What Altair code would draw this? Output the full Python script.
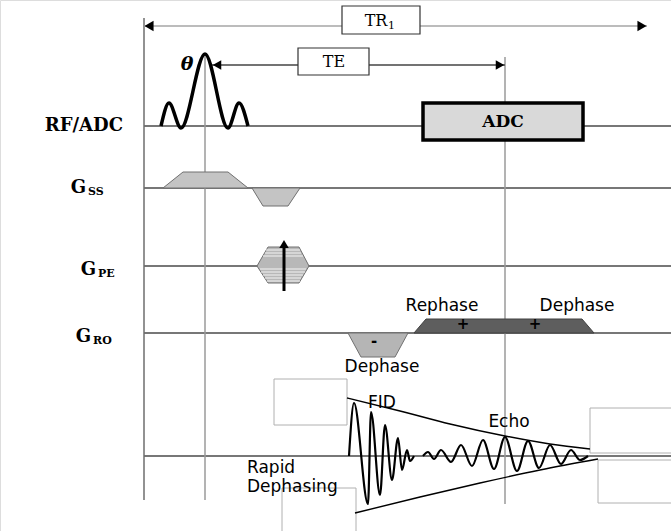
import altair as alt
import pandas as pd

W, H = 671, 531

# ---------------- channel baselines ----------------
base_names = ["RF/ADC", "G_SS", "G_PE", "G_RO", "Signal"]
base_y = [126, 188, 266, 333, 456]
base_x0 = [144, 144, 144, 144, 144]
base_x1 = [671, 671, 671, 671, 671]

# ---------------- vertical time markers ----------------
vline_x = [144, 205, 505]
vline_y0 = [18, 55, 57]
vline_y1 = [500, 500, 504]
vline_color = ["#6e6e6e", "#9a9a9a", "#9a9a9a"]

# ---------------- interval arrows (TR1, TE) ----------------
arrow_names = ["TR1", "TE"]
arrow_y = [26, 65]
arrow_x0 = [144, 212]
arrow_x1 = [647, 505]
arrow_color = ["#a6a6a6", "#444444"]

# arrow heads (TR left/right, TE left/right, phase-encode arrow)
head_x = [149, 642, 217, 500, 284]
head_y = [26, 26, 65, 65, 244]
head_shape = ["triangle-left", "triangle-right", "triangle-left", "triangle-right", "triangle-up"]
head_size = [110, 110, 95, 95, 90]

# phase-encode arrow shaft
pe_arrow_x = [284]
pe_arrow_y0 = [291]
pe_arrow_y1 = [246]

# ---------------- boxes ----------------
box_names = ["TR", "TE", "ADC", "blank1", "blank2", "blank3", "blank4"]
box_x0 = [342, 298, 423, 274, 282, 590, 598]
box_x1 = [420, 369, 583, 347, 356, 680, 680]
box_y0 = [6, 48, 103, 379, 488, 408, 460]
box_y1 = [34, 75, 140, 425, 540, 453, 503]
box_fill = ["#ffffff", "#ffffff", "#d9d9d9", "#ffffff", "#ffffff", "#ffffff", "#ffffff"]
box_stroke = ["#333333", "#333333", "#000000", "#b0b0b0", "#b0b0b0", "#b0b0b0", "#b0b0b0"]
box_width = [1.2, 1.2, 3.5, 1, 1, 1, 1]

# ---------------- gradient lobes (trapezoids / hexagon) ----------------
lobe_id = ["ss_pos"] * 4 + ["ss_neg"] * 4 + ["pe"] * 4 + ["ro_neg"] * 4 + ["ro_pos"] * 4
lobe_x = [163, 183, 228, 248,
          252, 263, 288, 300,
          257, 268, 299, 309,
          348, 361, 395, 408,
          414, 426, 582, 594]
lobe_top = [188, 172, 172, 188,
            188, 206, 206, 188,
            266, 247, 247, 266,
            333, 357, 357, 333,
            333, 319, 319, 333]
lobe_bot = [188, 188, 188, 188,
            188, 188, 188, 188,
            266, 283, 283, 266,
            333, 333, 333, 333,
            333, 333, 333, 333]
lobe_fill_map = {"ss_pos": "#c4c4c4", "ss_neg": "#c4c4c4", "pe": "#b8b8b8",
                 "ro_neg": "#b5b5b5", "ro_pos": "#5e5e5e"}
lobe_stroke_map = {"ss_pos": "#707070", "ss_neg": "#707070", "pe": "#707070",
                   "ro_neg": "#707070", "ro_pos": "#404040"}

# phase-encode table stripes
stripe_y = [250, 253, 256, 269, 272, 275, 278, 281]
stripe_x0 = [266, 265, 263, 260, 261, 263, 265, 267]
stripe_x1 = [300, 301, 303, 306, 305, 303, 301, 300]

# ---------------- waveforms ----------------
rf_x = [161, 169, 181, 205, 228, 239, 248]
rf_y = [126, 103, 128, 54, 128, 103, 126]

fid_x = [349, 354, 368, 371, 380, 385, 392, 398, 402, 407, 410, 414]
fid_y = [456, 403, 504, 412, 495, 425, 480, 438, 470, 450, 461, 456]

echo_x = [423, 428, 434, 441, 451, 461, 472, 483, 494, 505, 517, 528, 539, 550, 561, 571, 580, 588]
echo_y = [456, 452, 459, 450, 462, 445, 466, 440, 469, 437, 471, 441, 468, 445, 464, 450, 460, 456]

env_up_x = [347, 400, 450, 505, 550, 590]
env_up_y = [398, 411, 424, 436, 444, 449]
env_lo_x = [355, 420, 480, 540, 598]
env_lo_y = [513, 497, 483, 470, 459]

# ---------------- texts ----------------
chan_label = ["RF/ADC", "G", "G", "G"]
chan_label_x = [123, 86, 96, 91]
chan_label_y = [126, 188, 270, 337]
chan_sub = ["SS", "PE", "RO"]
chan_sub_x = [88, 98, 93]
chan_sub_y = [192, 274, 341]

interval_label = ["TR", "TE"]
interval_label_x = [376, 334]
interval_label_y = [21, 62]
interval_sub = ["1"]
interval_sub_x = [388]
interval_sub_y = [26]

adc_label = ["ADC"]
adc_label_x = [503]
adc_label_y = [122]

theta_label = ["θ"]
theta_x = [187]
theta_y = [64]

sans_center_text = ["Rephase", "Dephase", "Dephase", "FID", "Echo"]
sans_center_x = [442, 577, 382, 382, 509]
sans_center_y = [306, 306, 367, 403, 422]

sans_left_text = ["Rapid", "Dephasing"]
sans_left_x = [247, 247]
sans_left_y = [468, 487]

sign_text = ["-", "+", "+"]
sign_x = [374, 463, 535]
sign_y = [341, 324, 324]

# ================= build chart =================
XS = alt.Scale(domain=[0, W], nice=False, zero=False)
YS = alt.Scale(domain=[0, H], nice=False, zero=False, reverse=True)


def X(f):
    return alt.X(f, type="quantitative", scale=XS, axis=None)


def Y(f):
    return alt.Y(f, type="quantitative", scale=YS, axis=None)


base_df = pd.DataFrame({"name": base_names, "y": base_y, "x0": base_x0, "x1": base_x1})
baselines = alt.Chart(base_df).mark_rule(color="#4a4a4a", strokeWidth=1.5).encode(
    x=X("x0"), x2="x1", y=Y("y"))

vl_df = pd.DataFrame({"x": vline_x, "y0": vline_y0, "y1": vline_y1, "c": vline_color})
vlines = alt.Chart(vl_df).mark_rule(strokeWidth=1.5).encode(
    x=X("x"), y=Y("y0"), y2="y1", color=alt.Color("c:N", scale=None))

ar_df = pd.DataFrame({"name": arrow_names, "y": arrow_y, "x0": arrow_x0, "x1": arrow_x1, "c": arrow_color})
arrows = alt.Chart(ar_df).mark_rule(strokeWidth=1.3).encode(
    x=X("x0"), x2="x1", y=Y("y"), color=alt.Color("c:N", scale=None))

pe_df = pd.DataFrame({"x": pe_arrow_x, "y0": pe_arrow_y0, "y1": pe_arrow_y1})
pe_shaft = alt.Chart(pe_df).mark_rule(color="black", strokeWidth=3).encode(
    x=X("x"), y=Y("y0"), y2="y1")

hd_df = pd.DataFrame({"x": head_x, "y": head_y, "shape": head_shape, "size": head_size})
heads = alt.Chart(hd_df).mark_point(filled=True, color="black", opacity=1).encode(
    x=X("x"), y=Y("y"), shape=alt.Shape("shape:N", scale=None),
    size=alt.Size("size:Q", scale=None))

bx_df = pd.DataFrame({"name": box_names, "x0": box_x0, "x1": box_x1, "y0": box_y0, "y1": box_y1,
                      "fill": box_fill, "stroke": box_stroke, "sw": box_width})
boxes = alt.Chart(bx_df).mark_rect(clip=True).encode(
    x=X("x0"), x2="x1", y=Y("y0"), y2="y1",
    fill=alt.Fill("fill:N", scale=None),
    stroke=alt.Stroke("stroke:N", scale=None),
    strokeWidth=alt.StrokeWidth("sw:Q", scale=None))

lb_df = pd.DataFrame({"id": lobe_id, "x": lobe_x, "top": lobe_top, "bot": lobe_bot})
lb_df["fill"] = lb_df["id"].map(lobe_fill_map)
lb_df["stroke"] = lb_df["id"].map(lobe_stroke_map)
lobes = alt.Chart(lb_df).mark_area(strokeWidth=1, opacity=1).encode(
    x=X("x"), y=Y("top"), y2="bot", detail="id:N",
    fill=alt.Fill("fill:N", scale=None),
    stroke=alt.Stroke("stroke:N", scale=None))

st_df = pd.DataFrame({"y": stripe_y, "x0": stripe_x0, "x1": stripe_x1})
stripes = alt.Chart(st_df).mark_rule(color="#f4f4f4", strokeWidth=1.2).encode(
    x=X("x0"), x2="x1", y=Y("y"))

wave_rows = []
for wid, xs, ys, sw in [("rf", rf_x, rf_y, 3.5), ("fid", fid_x, fid_y, 2.2),
                        ("echo", echo_x, echo_y, 2.2),
                        ("env_up", env_up_x, env_up_y, 1.4), ("env_lo", env_lo_x, env_lo_y, 1.4)]:
    for i, (xv, yv) in enumerate(zip(xs, ys)):
        wave_rows.append({"id": wid, "x": xv, "y": yv, "sw": sw, "i": i})
wv_df = pd.DataFrame(wave_rows)
waves = alt.Chart(wv_df).mark_line(interpolate="monotone", color="black").encode(
    x=X("x"), y=Y("y"), detail="id:N", order="i:Q",
    strokeWidth=alt.StrokeWidth("sw:Q", scale=None))


def text_layer(texts, xs, ys, **kw):
    df = pd.DataFrame({"t": texts, "x": xs, "y": ys})
    return alt.Chart(df).mark_text(baseline="middle", color="black", **kw).encode(
        x=X("x"), y=Y("y"), text="t:N")


t_chan = text_layer(chan_label, chan_label_x, chan_label_y, font="DejaVu Serif",
                    fontSize=18, fontWeight="bold", align="right")
t_chan_sub = text_layer(chan_sub, chan_sub_x, chan_sub_y, font="DejaVu Serif",
                        fontSize=11, fontWeight="bold", align="left")
t_int = text_layer(interval_label, interval_label_x, interval_label_y, font="DejaVu Serif",
                   fontSize=16, align="center")
t_int_sub = text_layer(interval_sub, interval_sub_x, interval_sub_y, font="DejaVu Serif",
                       fontSize=11, align="left")
t_adc = text_layer(adc_label, adc_label_x, adc_label_y, font="DejaVu Serif",
                   fontSize=17, fontWeight="bold", align="center")
t_theta = text_layer(theta_label, theta_x, theta_y, font="DejaVu Serif",
                     fontSize=19, fontWeight="bold", fontStyle="italic", align="center")
t_sans_c = text_layer(sans_center_text, sans_center_x, sans_center_y, font="DejaVu Sans",
                      fontSize=17, align="center")
t_sans_l = text_layer(sans_left_text, sans_left_x, sans_left_y, font="DejaVu Sans",
                      fontSize=17, align="left")
t_sign = text_layer(sign_text, sign_x, sign_y, font="DejaVu Sans",
                    fontSize=15, fontWeight="bold", align="center")

chart = alt.layer(
    baselines, vlines, arrows, boxes, lobes, stripes, pe_shaft, heads, waves,
    t_chan, t_chan_sub, t_int, t_int_sub, t_adc, t_theta, t_sans_c, t_sans_l, t_sign
).properties(
    width=W, height=H, padding=0, autosize=alt.AutoSizeParams(type="none")
).configure_view(stroke=None).configure(background="white")

chart.save("out.html", embed_options={"renderer": "svg", "actions": False})
